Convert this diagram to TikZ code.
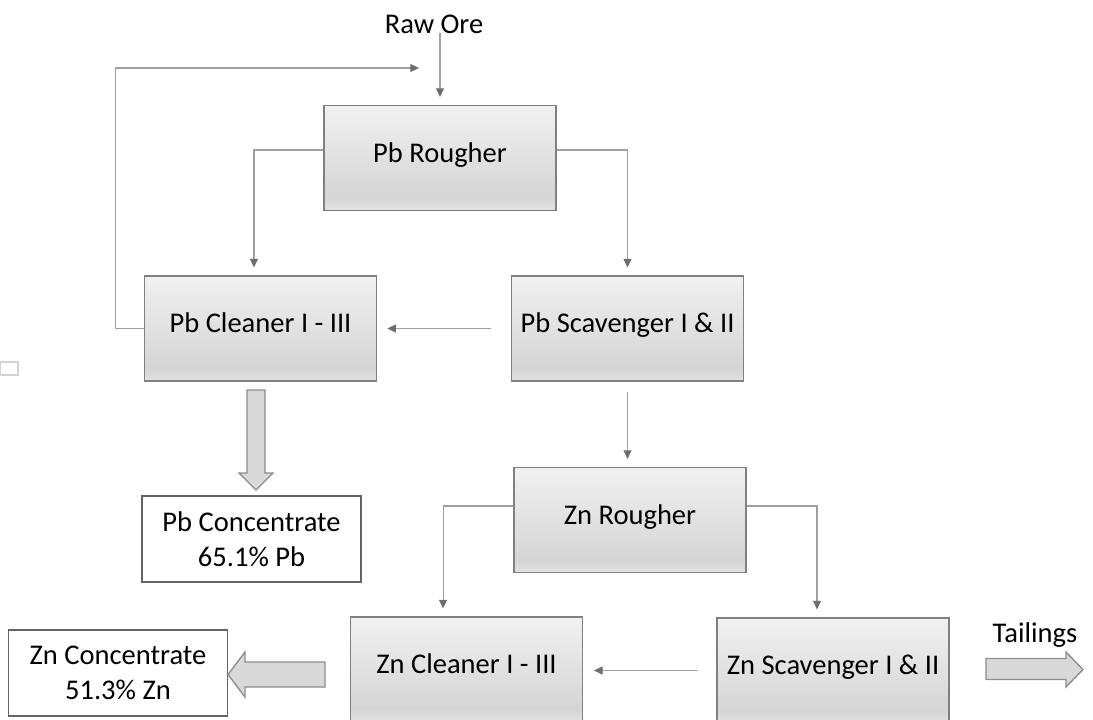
\documentclass[tikz,border=0pt]{standalone}
\usepackage{fontspec}
\setmainfont{Carlito}
\usetikzlibrary{arrows.meta}
\definecolor{stageStroke}{RGB}{128,128,128}
\definecolor{productStroke}{RGB}{100,100,100}
\definecolor{flowLine}{RGB}{160,160,160}
\definecolor{flowTip}{RGB}{110,110,110}
\definecolor{shadeTop}{RGB}{241,241,241}
\definecolor{shadeMid}{RGB}{213,213,213}
\definecolor{shadeLow}{RGB}{226,226,226}
\definecolor{streamFill}{RGB}{217,217,217}
\definecolor{streamStroke}{RGB}{140,140,140}
\pgfdeclareverticalshading{stageshade}{100bp}{color(0bp)=(shadeLow); color(25bp)=(shadeLow); color(31bp)=(shadeMid); color(75bp)=(shadeTop); color(100bp)=(shadeTop)}
\tikzset{
  stage/.style={draw=stageStroke, line width=1.1pt, shading=stageshade,
    minimum width=174pt, minimum height=78.5pt, inner sep=0pt,
    text height=0.644em, text depth=0pt},
  product/.style={draw=productStroke, fill=white, line width=1.1pt,
    minimum width=164.5pt, minimum height=64.5pt, inner sep=0pt, align=center},
  flow/.style={draw=flowLine, line width=0.8pt,
    -{Triangle[length=6.5pt,width=6pt,color=flowTip]}, shorten >=6pt},
  stream/.style={fill=streamFill, draw=streamStroke, line width=1pt},
}

\begin{document}
\begin{tikzpicture}[x=0.75pt,y=-0.75pt,
    every node/.style={font=\fontsize{21.4}{26.2}\selectfont}]
  \clip (0,0) rectangle (1093,719);
  % flotation stages
  \node[stage] (pbro) at (440,158) {Pb Rougher};
  \node[stage] (pbcl) at (260.5,328.5) {Pb Cleaner I - III};
  \node[stage] (pbsc) at (627.5,328.5) {Pb Scavenger I \& II};
  \node[stage] (znro) at (630,520) {Zn Rougher};
  \node[stage] (zncl) at (466.5,669.5) {Zn Cleaner I - III};
  \node[stage] (znsc) at (833,670.5) {Zn Scavenger I \& II};
  % products
  \node[product] (pbcon) at (251.5,539) {Pb Concentrate\\65.1\% Pb};
  \node[product] (zncon) at (118,673) {Zn Concentrate\\51.3\% Zn};
  \node[anchor=base, inner sep=0pt] (raw) at (434,33) {Raw Ore};
  \node[anchor=base, inner sep=0pt] (tail) at (1035,642) {Tailings};
  \coordinate (recycle) at (427,68);

  % thin flows
  \draw[flow] (pbro.north |- raw.south) -- (pbro.north);
  \draw[flow] (pbcl.west) -- ++(-28,0) |- (recycle);
  \draw[flow] ([yshift=6pt]pbro.west) -| ([xshift=-4.9pt]pbcl.north);
  \draw[flow] ([yshift=6pt]pbro.east) -| (pbsc.north);
  \draw[flow, shorten <=15pt, shorten >=7.5pt] (pbsc.west) -- (pbcl.east);
  \draw[flow, shorten <=7.5pt] (pbsc.south) -- (pbsc.south |- znro.north);
  \draw[flow] ([yshift=10.5pt]znro.west) -| ([xshift=-17.6pt]zncl.north);
  \draw[flow] ([yshift=10.5pt]znro.east) -| ([xshift=-12pt]znsc.north);
  \draw[flow, shorten <=14pt, shorten >=8pt] (znsc.west) -- (znsc.west -| zncl.east);

  % product streams
  \filldraw[stream] (247,390) -- (265,390) -- (265,473) -- (273,473)
    -- (256,490) -- (239,473) -- (247,473) -- cycle;
  \filldraw[stream] (325,662) -- (245,662) -- (245,652) -- (228,674.5)
    -- (245,697) -- (245,687) -- (325,687) -- cycle;
  \filldraw[stream] (986,658.5) -- (1066,658.5) -- (1066,652) -- (1083,669.5)
    -- (1066,687) -- (1066,679.5) -- (986,679.5) -- cycle;

  \draw[gray!35, line width=1.2pt] (0,362) rectangle (18,375);
\end{tikzpicture}
\end{document}
